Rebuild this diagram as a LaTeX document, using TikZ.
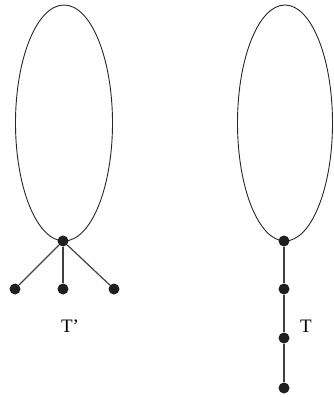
\documentclass[tikz,border=0pt]{standalone}
\usepackage{fontspec}
\setmainfont{Liberation Serif}
\begin{document}
\begin{tikzpicture}[x=1pt,y=-1pt,
  vert/.style={circle,fill=black!88,inner sep=0pt,minimum size=11pt},
  edge/.style={draw=black!75,line width=1.2pt},
  loopline/.style={draw=black!85,line width=0.9pt},
  lab/.style={font=\fontsize{19}{21}\selectfont,inner sep=0pt}]
\useasboundingbox (0,0) rectangle (333,397);
% left graph
\draw[loopline] (64,123) ellipse [x radius=48.5, y radius=118];
\node[vert] (a) at (63,241) {};
\node[vert] (a1) at (15,289) {};
\node[vert] (a2) at (63,289) {};
\node[vert] (a3) at (114,289) {};
\draw[edge] (a) -- (a1);
\draw[edge] (a) -- (a2);
\draw[edge] (a) -- (a3);
\node[lab] (tp) at (70,326) {T’};
% right graph
\draw[loopline] (285,123) ellipse [x radius=47.5, y radius=118];
\node[vert] (b) at (284,241) {};
\node[vert] (b1) at (284,289) {};
\node[vert] (b2) at (284,338) {};
\node[vert] (b3) at (284,388) {};
\draw[edge] (b) -- (b1) -- (b2) -- (b3);
\node[lab] (t) at (306,326) {T};
\end{tikzpicture}
\end{document}
